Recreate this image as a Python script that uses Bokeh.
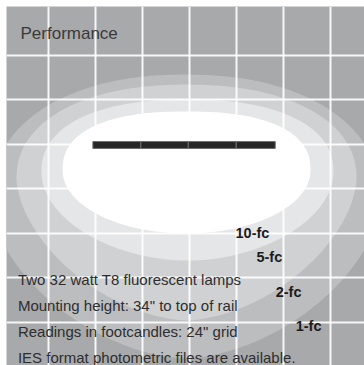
import numpy as np
from bokeh.plotting import figure
from bokeh.models import Range1d, FixedTicker
from bokeh.core.properties import value
from bokeh.embed import file_html
from bokeh.resources import INLINE

# ---- data (feet; grid cell = 24" = 2 ft, origin at fixture centre line) ----
levels = ["1-fc", "2-fc", "5-fc", "10-fc"]
level_colors = ["#bcbdbf", "#d0d1d3", "#e5e6e7", "#ffffff"]
contour_left = [-8.45, -7.34, -6.28, -5.38]
contour_right = [8.15, 7.13, 6.15, 5.17]
contour_top = [3.12, 2.67, 2.00, 1.46]
contour_bottom = [-9.64, -7.93, -5.24, -4.02]
contour_waist = [-2.54, -1.55, -1.28, -1.19]
shape_top = [2.2, 2.2, 2.3, 2.4]
shape_bottom = [1.7, 1.7, 1.9, 2.0]

lamp_left = [-4.09, -2.05, -0.03, 2.01]
lamp_right = [-2.05, -0.03, 2.01, 3.67]
lamp_top = [0.11, 0.11, 0.11, 0.11]
lamp_bottom = [-0.20, -0.20, -0.20, -0.20]

label_text = ["10-fc", "5-fc", "2-fc", "1-fc"]
label_x = [1.98, 2.87, 3.69, 4.54]
label_y = [-4.02, -5.10, -6.67, -8.17]

info_lines = [
    "Two 32 watt T8 fluorescent lamps",
    "Mounting height: 34\" to top of rail",
    "Readings in footcandles: 24\" grid",
    "IES format photometric files are available.",
]
info_x = [-7.28, -7.28, -7.28, -7.28]
info_y = [-6.09, -7.28, -8.43, -9.58]

grid_x = [-6, -4, -2, 0, 2, 4, 6]
grid_y = [4, 2, 0, -2, -4, -6, -8]

FONT = "Liberation Sans"


def contour_xy(left, right, top, bottom, waist, n_top, n_bot, m=400):
    cx = (left + right) / 2.0
    a = (right - left) / 2.0
    t = np.linspace(0, 2 * np.pi, m)
    c, s = np.cos(t), np.sin(t)
    n = np.where(s >= 0, n_top, n_bot)
    x = cx + a * np.sign(c) * np.abs(c) ** (2.0 / n)
    y = np.where(
        s >= 0,
        waist + (top - waist) * np.abs(s) ** (2.0 / n),
        waist - (waist - bottom) * np.abs(s) ** (2.0 / n),
    )
    return x, y


p = figure(
    width=364,
    height=365,
    x_range=Range1d(-7.766, 7.468),
    y_range=Range1d(-9.955, 6.18),
    output_backend="svg",
    toolbar_location=None,
    min_border_left=6,
    min_border_top=6,
    min_border_right=0,
    min_border_bottom=0,
    background_fill_color="#a8a9ab",
    border_fill_color="white",
    outline_line_color=None,
)
p.xaxis.visible = False
p.yaxis.visible = False
p.xgrid.ticker = FixedTicker(ticks=grid_x)
p.ygrid.ticker = FixedTicker(ticks=grid_y)
p.xgrid.grid_line_color = "white"
p.ygrid.grid_line_color = "white"
p.xgrid.grid_line_width = 2
p.ygrid.grid_line_width = 2
p.xgrid.grid_line_alpha = 0.9
p.ygrid.grid_line_alpha = 0.9

for i in range(len(levels)):
    xs, ys = contour_xy(contour_left[i], contour_right[i], contour_top[i],
                        contour_bottom[i], contour_waist[i], shape_top[i], shape_bottom[i])
    p.patch(xs, ys, fill_color=level_colors[i], line_color=None, level="image")

p.quad(left=lamp_left, right=lamp_right, top=lamp_top, bottom=lamp_bottom,
       fill_color="#262626", line_color="#6e6e6e", line_width=1)

p.text(x=[-7.17], y=[4.97], text=["Performance"], text_font=value(FONT),
       text_font_size="17px", text_color="#3a3a3a", text_baseline="alphabetic",
       text_align="left")

p.text(x=info_x, y=info_y, text=info_lines, text_font=value(FONT),
       text_font_size="15px", text_color="#2e2e2e", text_baseline="alphabetic",
       text_align="left")

p.text(x=label_x, y=label_y, text=label_text, text_font=value(FONT),
       text_font_style="bold", text_font_size="14.5px", text_color="#1c1c1c",
       text_baseline="alphabetic", text_align="left")

open("out.html", "w").write(file_html(p, INLINE))
